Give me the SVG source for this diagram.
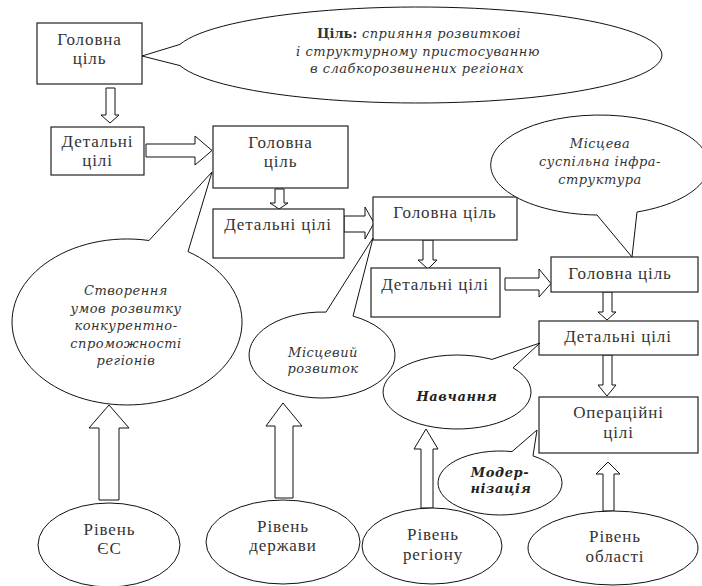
<svg xmlns="http://www.w3.org/2000/svg" width="702" height="586" viewBox="0 0 702 586">
<style>
.box{fill:#fff;stroke:#222;stroke-width:1.2}
.arr{fill:#fff;stroke:#111;stroke-width:1}
.call{fill:#fff;stroke:#111;stroke-width:1}
.t{font-family:"Liberation Serif","DejaVu Serif",serif;font-size:17px;fill:#333;text-anchor:middle;letter-spacing:0.9px}
.i{font-family:"DejaVu Serif","Liberation Serif",serif;font-size:13px;font-style:italic;fill:#333;text-anchor:middle;letter-spacing:0.5px}
.bi{font-family:"DejaVu Serif","Liberation Serif",serif;font-size:13px;font-style:italic;font-weight:bold;fill:#222;text-anchor:middle;letter-spacing:0.6px}
</style>
<rect width="702" height="586" fill="#fff"/>
<g id="connectors">
<polygon class="arr" points="106,88 115,88 115,115 119,115 110,123 101,115 106,115"/>
<polygon class="arr" points="146,144 195,144 195,136 212,150.5 195,165 195,157 146,157"/>
<polygon class="arr" points="275,189 284,189 284,203 288,203 279,209 270,203 275,203"/>
<polygon class="arr" points="344,216 365,216 365,207 374,223 365,239 365,232 344,232"/>
<polygon class="arr" points="423,240 433,240 433,260 437,260 428,269 418,260 423,260"/>
<polygon class="arr" points="505,278 539,278 539,269 551,283.5 539,297 539,290 505,290"/>
<polygon class="arr" points="603,292 612,292 612,312 616,312 607,320 598,312 603,312"/>
<polygon class="arr" points="603,355 612,355 612,385 616,385 607,396 598,385 603,385"/>
<polygon class="arr" points="603,511 614,511 614,474 620,474 608,462 596,474 603,474"/>
<polygon class="arr" points="421,508 433,508 433,449 438,449 426,429 414,449 421,449"/>
<polygon class="arr" points="275,498 293,498 293,426 302,426 283,403 266,426 275,426"/>
<polygon class="arr" points="99,500 119,500 119,428 129,428 109,405 89,428 99,428"/>
</g>
<g id="goal1">
<rect class="box" x="37" y="23" width="105" height="61"/>
<text class="t" x="89.5" y="45">Головна</text>
<text class="t" x="89.5" y="64">ціль</text>
</g>
<g id="callout-goal">
<path class="call" d="M180,44.4 L142,56 L180,65.6 A244,48 0 1 0 180,44.4 Z"/>
<text class="i" x="419" y="38"><tspan font-weight="bold" font-style="normal" letter-spacing="0">Ціль:</tspan> сприяння розвиткові</text>
<text class="i" x="418" y="55.5">і структурному пристосуванню</text>
<text class="i" x="417" y="73">в слабкорозвинених регіонах</text>
</g>
<g id="detail1">
<rect class="box" x="51" y="127" width="93" height="48"/>
<text class="t" x="97.5" y="147">Детальні</text>
<text class="t" x="97.5" y="166">цілі</text>
</g>
<g id="goal2">
<rect class="box" x="213" y="126" width="135" height="62"/>
<text class="t" x="280.5" y="148">Головна</text>
<text class="t" x="280.5" y="167">ціль</text>
</g>
<g id="detail2">
<rect class="box" x="213" y="209" width="131" height="49"/>
<text class="t" x="278" y="230">Детальні цілі</text>
</g>
<g id="goal3">
<rect class="box" x="373" y="197" width="144" height="43"/>
<text class="t" x="445" y="218">Головна ціль</text>
</g>
<g id="detail3">
<rect class="box" x="371" y="268" width="129" height="49"/>
<text class="t" x="435" y="290">Детальні цілі</text>
</g>
<g id="goal4">
<rect class="box" x="551" y="257" width="147" height="35"/>
<text class="t" x="620" y="279">Головна ціль</text>
</g>
<g id="detail4">
<rect class="box" x="539" y="321" width="159" height="34"/>
<text class="t" x="618" y="342">Детальні цілі</text>
</g>
<g id="operational">
<rect class="box" x="539" y="397" width="159" height="56"/>
<text class="t" x="618.5" y="418">Операційні</text>
<text class="t" x="618.5" y="438">цілі</text>
</g>
<g id="callout-competitiveness">
<path class="call" d="M149,240.5 L212,172 L188,251.6 A115,83 0 1 1 149,240.5 Z"/>
<text class="i" x="126" y="295">Створення</text>
<text class="i" x="126" y="312.5">умов розвитку</text>
<text class="i" x="126" y="330">конкурентно-</text>
<text class="i" x="126" y="347.5">спроможності</text>
<text class="i" x="126" y="365">регіонів</text>
</g>
<g id="callout-local-dev">
<path class="call" d="M326,312.1 L373,238 L353,316.1 A73,43 0 1 1 326,312.1 Z"/>
<text class="i" x="323" y="357">Місцевий</text>
<text class="i" x="323" y="373">розвиток</text>
</g>
<g id="callout-infra">
<path class="call" d="M637,212 L632,257 L597,215 A109,50 0 1 1 637,212 Z"/>
<text class="i" x="600" y="147.5">Місцева</text>
<text class="i" x="600" y="165.5">суспільна інфра-</text>
<text class="i" x="600" y="183.5">структура</text>
</g>
<g id="callout-training">
<path class="call" d="M492,359.4 L540,343 L513,367.8 A74,37 0 1 1 492,359.4 Z"/>
<text class="bi" x="457" y="401">Навчання</text>
</g>
<g id="callout-modern">
<path class="call" d="M512,451.6 L537,430 L533,455.9 A62,32 0 1 1 512,451.6 Z"/>
<text class="bi" x="500" y="477">Модер-</text>
<text class="bi" x="501" y="493">нізація</text>
</g>
<g id="level-eu">
<ellipse class="call" cx="109" cy="545" rx="71" ry="42"/>
<text class="t" x="109.5" y="535">Рівень</text>
<text class="t" x="109.5" y="554">ЄС</text>
</g>
<g id="level-state">
<ellipse class="call" cx="283" cy="542" rx="77" ry="42"/>
<text class="t" x="283" y="532">Рівень</text>
<text class="t" x="283" y="551">держави</text>
</g>
<g id="level-region">
<ellipse class="call" cx="432" cy="546" rx="70" ry="38"/>
<text class="t" x="433" y="540">Рівень</text>
<text class="t" x="433" y="560">регіону</text>
</g>
<g id="level-oblast">
<ellipse class="call" cx="613" cy="548" rx="85" ry="37"/>
<text class="t" x="615" y="542">Рівень</text>
<text class="t" x="615" y="562">області</text>
</g>
</svg>
